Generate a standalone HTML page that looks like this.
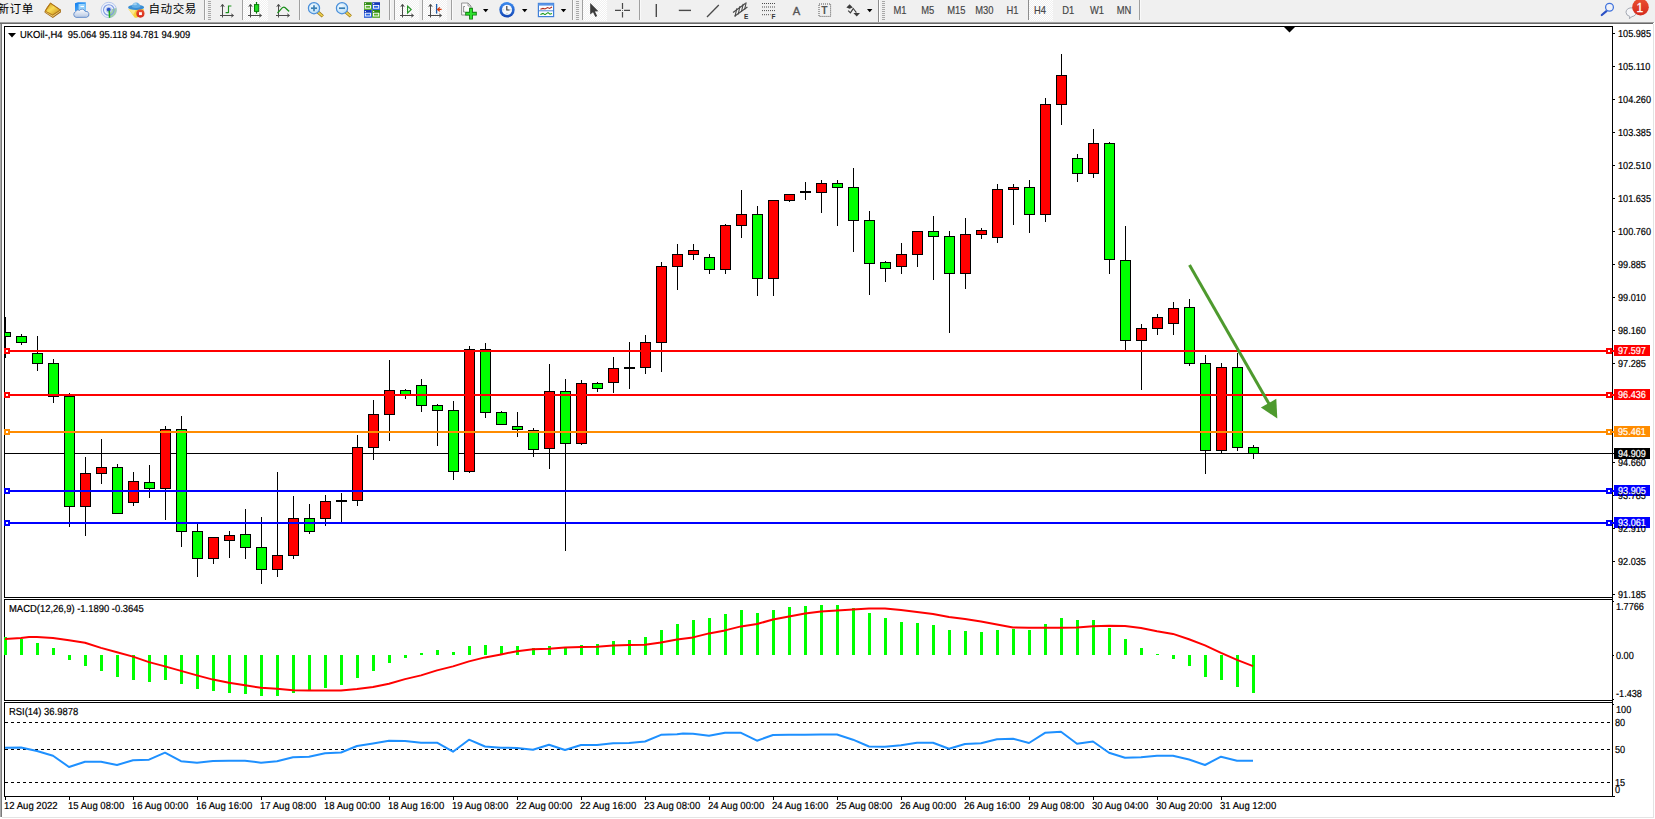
<!DOCTYPE html>
<html lang="zh"><head><meta charset="utf-8"><title>UKOil-,H4</title>
<style>
html,body{margin:0;padding:0;background:#fff;}
body{width:1655px;height:819px;position:relative;overflow:hidden;font-family:"Liberation Sans","Noto Sans CJK SC",sans-serif;}
svg.chart{position:absolute;left:0;top:0;}
svg.tb{position:absolute;left:0;top:0;}
.edgeL0{position:absolute;left:0;top:24px;width:1px;height:793px;background:#a9a9a9;}
.edgeL1{position:absolute;left:1px;top:24px;width:1px;height:793px;background:#7a7a7a;}
.edgeR{position:absolute;left:1653px;top:24px;width:1px;height:794px;background:#e3e3e3;}
.edgeB{position:absolute;left:2px;top:817px;width:1652px;height:1px;background:#e4e4e4;}
.t{position:absolute;white-space:nowrap;color:#000;line-height:11px;height:11px;text-rendering:geometricPrecision;transform-origin:0 50%;-webkit-text-stroke:0.2px currentColor;}
.ax{font-size:10.2px;transform:scaleX(0.897);}
.w{color:#fff;}
.lb{font-size:10.2px;transform:scaleX(0.926);}
.tm{font-size:10.2px;transform:scaleX(0.936);}
.cn{transform:none;text-rendering:auto;-webkit-text-stroke:0;font-size:11.6px;letter-spacing:0.5px;line-height:14px;height:14px;font-family:"Liberation Sans","Noto Sans CJK SC",sans-serif;}
</style></head><body>
<svg class="chart" width="1655" height="819" viewBox="0 0 1655 819" shape-rendering="crispEdges"><defs><clipPath id="cm"><rect x="5" y="27" width="1607" height="570"/></clipPath></defs><rect x="5" y="453" width="1609" height="1" fill="#000"/>
<g clip-path="url(#cm)">
<rect x="5" y="317" width="1" height="41" fill="#000"/>
<rect x="0" y="332" width="11" height="5" fill="#000"/>
<rect x="1" y="333" width="9" height="3" fill="#00ff00"/>
<rect x="21" y="334" width="1" height="11" fill="#000"/>
<rect x="16" y="336" width="11" height="7" fill="#000"/>
<rect x="17" y="337" width="9" height="5" fill="#00ff00"/>
<rect x="37" y="336" width="1" height="35" fill="#000"/>
<rect x="32" y="353" width="11" height="11" fill="#000"/>
<rect x="33" y="354" width="9" height="9" fill="#00ff00"/>
<rect x="53" y="359" width="1" height="44" fill="#000"/>
<rect x="48" y="363" width="11" height="34" fill="#000"/>
<rect x="49" y="364" width="9" height="32" fill="#00ff00"/>
<rect x="69" y="393" width="1" height="134" fill="#000"/>
<rect x="64" y="396" width="11" height="111" fill="#000"/>
<rect x="65" y="397" width="9" height="109" fill="#00ff00"/>
<rect x="85" y="457" width="1" height="79" fill="#000"/>
<rect x="80" y="473" width="11" height="34" fill="#000"/>
<rect x="81" y="474" width="9" height="32" fill="#ff0000"/>
<rect x="101" y="439" width="1" height="45" fill="#000"/>
<rect x="96" y="467" width="11" height="7" fill="#000"/>
<rect x="97" y="468" width="9" height="5" fill="#ff0000"/>
<rect x="117" y="464" width="1" height="50" fill="#000"/>
<rect x="112" y="467" width="11" height="47" fill="#000"/>
<rect x="113" y="468" width="9" height="45" fill="#00ff00"/>
<rect x="133" y="472" width="1" height="34" fill="#000"/>
<rect x="128" y="481" width="11" height="22" fill="#000"/>
<rect x="129" y="482" width="9" height="20" fill="#ff0000"/>
<rect x="149" y="465" width="1" height="33" fill="#000"/>
<rect x="144" y="482" width="11" height="7" fill="#000"/>
<rect x="145" y="483" width="9" height="5" fill="#00ff00"/>
<rect x="165" y="426" width="1" height="94" fill="#000"/>
<rect x="160" y="429" width="11" height="60" fill="#000"/>
<rect x="161" y="430" width="9" height="58" fill="#ff0000"/>
<rect x="181" y="416" width="1" height="131" fill="#000"/>
<rect x="176" y="429" width="11" height="103" fill="#000"/>
<rect x="177" y="430" width="9" height="101" fill="#00ff00"/>
<rect x="197" y="524" width="1" height="53" fill="#000"/>
<rect x="192" y="531" width="11" height="28" fill="#000"/>
<rect x="193" y="532" width="9" height="26" fill="#00ff00"/>
<rect x="213" y="537" width="1" height="27" fill="#000"/>
<rect x="208" y="537" width="11" height="22" fill="#000"/>
<rect x="209" y="538" width="9" height="20" fill="#ff0000"/>
<rect x="229" y="531" width="1" height="27" fill="#000"/>
<rect x="224" y="535" width="11" height="6" fill="#000"/>
<rect x="225" y="536" width="9" height="4" fill="#ff0000"/>
<rect x="245" y="509" width="1" height="50" fill="#000"/>
<rect x="240" y="534" width="11" height="14" fill="#000"/>
<rect x="241" y="535" width="9" height="12" fill="#00ff00"/>
<rect x="261" y="517" width="1" height="67" fill="#000"/>
<rect x="256" y="547" width="11" height="23" fill="#000"/>
<rect x="257" y="548" width="9" height="21" fill="#00ff00"/>
<rect x="277" y="472" width="1" height="105" fill="#000"/>
<rect x="272" y="555" width="11" height="15" fill="#000"/>
<rect x="273" y="556" width="9" height="13" fill="#ff0000"/>
<rect x="293" y="496" width="1" height="63" fill="#000"/>
<rect x="288" y="518" width="11" height="38" fill="#000"/>
<rect x="289" y="519" width="9" height="36" fill="#ff0000"/>
<rect x="309" y="504" width="1" height="30" fill="#000"/>
<rect x="304" y="518" width="11" height="14" fill="#000"/>
<rect x="305" y="519" width="9" height="12" fill="#00ff00"/>
<rect x="325" y="495" width="1" height="31" fill="#000"/>
<rect x="320" y="501" width="11" height="18" fill="#000"/>
<rect x="321" y="502" width="9" height="16" fill="#ff0000"/>
<rect x="341" y="493" width="1" height="29" fill="#000"/>
<rect x="336" y="500" width="11" height="2" fill="#000"/>
<rect x="357" y="435" width="1" height="71" fill="#000"/>
<rect x="352" y="447" width="11" height="54" fill="#000"/>
<rect x="353" y="448" width="9" height="52" fill="#ff0000"/>
<rect x="373" y="400" width="1" height="60" fill="#000"/>
<rect x="368" y="414" width="11" height="34" fill="#000"/>
<rect x="369" y="415" width="9" height="32" fill="#ff0000"/>
<rect x="389" y="360" width="1" height="81" fill="#000"/>
<rect x="384" y="390" width="11" height="25" fill="#000"/>
<rect x="385" y="391" width="9" height="23" fill="#ff0000"/>
<rect x="405" y="389" width="1" height="10" fill="#000"/>
<rect x="400" y="390" width="11" height="5" fill="#000"/>
<rect x="401" y="391" width="9" height="3" fill="#00ff00"/>
<rect x="421" y="379" width="1" height="33" fill="#000"/>
<rect x="416" y="385" width="11" height="21" fill="#000"/>
<rect x="417" y="386" width="9" height="19" fill="#00ff00"/>
<rect x="437" y="404" width="1" height="42" fill="#000"/>
<rect x="432" y="405" width="11" height="6" fill="#000"/>
<rect x="433" y="406" width="9" height="4" fill="#00ff00"/>
<rect x="453" y="401" width="1" height="79" fill="#000"/>
<rect x="448" y="410" width="11" height="62" fill="#000"/>
<rect x="449" y="411" width="9" height="60" fill="#00ff00"/>
<rect x="469" y="346" width="1" height="127" fill="#000"/>
<rect x="464" y="349" width="11" height="123" fill="#000"/>
<rect x="465" y="350" width="9" height="121" fill="#ff0000"/>
<rect x="485" y="343" width="1" height="75" fill="#000"/>
<rect x="480" y="349" width="11" height="64" fill="#000"/>
<rect x="481" y="350" width="9" height="62" fill="#00ff00"/>
<rect x="501" y="411" width="1" height="14" fill="#000"/>
<rect x="496" y="412" width="11" height="13" fill="#000"/>
<rect x="497" y="413" width="9" height="11" fill="#00ff00"/>
<rect x="517" y="412" width="1" height="25" fill="#000"/>
<rect x="512" y="426" width="11" height="4" fill="#000"/>
<rect x="513" y="427" width="9" height="2" fill="#00ff00"/>
<rect x="533" y="428" width="1" height="29" fill="#000"/>
<rect x="528" y="430" width="11" height="20" fill="#000"/>
<rect x="529" y="431" width="9" height="18" fill="#00ff00"/>
<rect x="549" y="364" width="1" height="105" fill="#000"/>
<rect x="544" y="391" width="11" height="58" fill="#000"/>
<rect x="545" y="392" width="9" height="56" fill="#ff0000"/>
<rect x="565" y="379" width="1" height="172" fill="#000"/>
<rect x="560" y="391" width="11" height="53" fill="#000"/>
<rect x="561" y="392" width="9" height="51" fill="#00ff00"/>
<rect x="581" y="380" width="1" height="65" fill="#000"/>
<rect x="576" y="383" width="11" height="61" fill="#000"/>
<rect x="577" y="384" width="9" height="59" fill="#ff0000"/>
<rect x="597" y="382" width="1" height="10" fill="#000"/>
<rect x="592" y="383" width="11" height="6" fill="#000"/>
<rect x="593" y="384" width="9" height="4" fill="#00ff00"/>
<rect x="613" y="357" width="1" height="36" fill="#000"/>
<rect x="608" y="368" width="11" height="15" fill="#000"/>
<rect x="609" y="369" width="9" height="13" fill="#ff0000"/>
<rect x="629" y="342" width="1" height="47" fill="#000"/>
<rect x="624" y="367" width="11" height="2" fill="#000"/>
<rect x="645" y="335" width="1" height="39" fill="#000"/>
<rect x="640" y="342" width="11" height="26" fill="#000"/>
<rect x="641" y="343" width="9" height="24" fill="#ff0000"/>
<rect x="661" y="262" width="1" height="110" fill="#000"/>
<rect x="656" y="266" width="11" height="77" fill="#000"/>
<rect x="657" y="267" width="9" height="75" fill="#ff0000"/>
<rect x="677" y="244" width="1" height="46" fill="#000"/>
<rect x="672" y="254" width="11" height="13" fill="#000"/>
<rect x="673" y="255" width="9" height="11" fill="#ff0000"/>
<rect x="693" y="244" width="1" height="16" fill="#000"/>
<rect x="688" y="250" width="11" height="5" fill="#000"/>
<rect x="689" y="251" width="9" height="3" fill="#ff0000"/>
<rect x="709" y="254" width="1" height="20" fill="#000"/>
<rect x="704" y="257" width="11" height="13" fill="#000"/>
<rect x="705" y="258" width="9" height="11" fill="#00ff00"/>
<rect x="725" y="224" width="1" height="50" fill="#000"/>
<rect x="720" y="225" width="11" height="45" fill="#000"/>
<rect x="721" y="226" width="9" height="43" fill="#ff0000"/>
<rect x="741" y="190" width="1" height="48" fill="#000"/>
<rect x="736" y="214" width="11" height="12" fill="#000"/>
<rect x="737" y="215" width="9" height="10" fill="#ff0000"/>
<rect x="757" y="206" width="1" height="90" fill="#000"/>
<rect x="752" y="214" width="11" height="65" fill="#000"/>
<rect x="753" y="215" width="9" height="63" fill="#00ff00"/>
<rect x="773" y="200" width="1" height="96" fill="#000"/>
<rect x="768" y="200" width="11" height="79" fill="#000"/>
<rect x="769" y="201" width="9" height="77" fill="#ff0000"/>
<rect x="789" y="194" width="1" height="8" fill="#000"/>
<rect x="784" y="194" width="11" height="7" fill="#000"/>
<rect x="785" y="195" width="9" height="5" fill="#ff0000"/>
<rect x="805" y="182" width="1" height="18" fill="#000"/>
<rect x="800" y="191" width="11" height="2" fill="#000"/>
<rect x="821" y="180" width="1" height="33" fill="#000"/>
<rect x="816" y="183" width="11" height="10" fill="#000"/>
<rect x="817" y="184" width="9" height="8" fill="#ff0000"/>
<rect x="837" y="180" width="1" height="46" fill="#000"/>
<rect x="832" y="183" width="11" height="5" fill="#000"/>
<rect x="833" y="184" width="9" height="3" fill="#00ff00"/>
<rect x="853" y="168" width="1" height="84" fill="#000"/>
<rect x="848" y="187" width="11" height="34" fill="#000"/>
<rect x="849" y="188" width="9" height="32" fill="#00ff00"/>
<rect x="869" y="211" width="1" height="84" fill="#000"/>
<rect x="864" y="220" width="11" height="44" fill="#000"/>
<rect x="865" y="221" width="9" height="42" fill="#00ff00"/>
<rect x="885" y="261" width="1" height="21" fill="#000"/>
<rect x="880" y="262" width="11" height="7" fill="#000"/>
<rect x="881" y="263" width="9" height="5" fill="#00ff00"/>
<rect x="901" y="243" width="1" height="31" fill="#000"/>
<rect x="896" y="254" width="11" height="13" fill="#000"/>
<rect x="897" y="255" width="9" height="11" fill="#ff0000"/>
<rect x="917" y="231" width="1" height="36" fill="#000"/>
<rect x="912" y="231" width="11" height="24" fill="#000"/>
<rect x="913" y="232" width="9" height="22" fill="#ff0000"/>
<rect x="933" y="216" width="1" height="64" fill="#000"/>
<rect x="928" y="231" width="11" height="6" fill="#000"/>
<rect x="929" y="232" width="9" height="4" fill="#00ff00"/>
<rect x="949" y="231" width="1" height="102" fill="#000"/>
<rect x="944" y="236" width="11" height="38" fill="#000"/>
<rect x="945" y="237" width="9" height="36" fill="#00ff00"/>
<rect x="965" y="218" width="1" height="71" fill="#000"/>
<rect x="960" y="234" width="11" height="40" fill="#000"/>
<rect x="961" y="235" width="9" height="38" fill="#ff0000"/>
<rect x="981" y="228" width="1" height="11" fill="#000"/>
<rect x="976" y="230" width="11" height="5" fill="#000"/>
<rect x="977" y="231" width="9" height="3" fill="#ff0000"/>
<rect x="997" y="184" width="1" height="59" fill="#000"/>
<rect x="992" y="189" width="11" height="49" fill="#000"/>
<rect x="993" y="190" width="9" height="47" fill="#ff0000"/>
<rect x="1013" y="184" width="1" height="41" fill="#000"/>
<rect x="1008" y="187" width="11" height="3" fill="#000"/>
<rect x="1009" y="188" width="9" height="1" fill="#ff0000"/>
<rect x="1029" y="180" width="1" height="53" fill="#000"/>
<rect x="1024" y="187" width="11" height="28" fill="#000"/>
<rect x="1025" y="188" width="9" height="26" fill="#00ff00"/>
<rect x="1045" y="98" width="1" height="124" fill="#000"/>
<rect x="1040" y="104" width="11" height="111" fill="#000"/>
<rect x="1041" y="105" width="9" height="109" fill="#ff0000"/>
<rect x="1061" y="54" width="1" height="71" fill="#000"/>
<rect x="1056" y="75" width="11" height="30" fill="#000"/>
<rect x="1057" y="76" width="9" height="28" fill="#ff0000"/>
<rect x="1077" y="154" width="1" height="28" fill="#000"/>
<rect x="1072" y="158" width="11" height="16" fill="#000"/>
<rect x="1073" y="159" width="9" height="14" fill="#00ff00"/>
<rect x="1093" y="129" width="1" height="49" fill="#000"/>
<rect x="1088" y="143" width="11" height="31" fill="#000"/>
<rect x="1089" y="144" width="9" height="29" fill="#ff0000"/>
<rect x="1109" y="142" width="1" height="132" fill="#000"/>
<rect x="1104" y="143" width="11" height="117" fill="#000"/>
<rect x="1105" y="144" width="9" height="115" fill="#00ff00"/>
<rect x="1125" y="226" width="1" height="124" fill="#000"/>
<rect x="1120" y="260" width="11" height="81" fill="#000"/>
<rect x="1121" y="261" width="9" height="79" fill="#00ff00"/>
<rect x="1141" y="324" width="1" height="66" fill="#000"/>
<rect x="1136" y="328" width="11" height="13" fill="#000"/>
<rect x="1137" y="329" width="9" height="11" fill="#ff0000"/>
<rect x="1157" y="314" width="1" height="21" fill="#000"/>
<rect x="1152" y="317" width="11" height="12" fill="#000"/>
<rect x="1153" y="318" width="9" height="10" fill="#ff0000"/>
<rect x="1173" y="302" width="1" height="33" fill="#000"/>
<rect x="1168" y="308" width="11" height="16" fill="#000"/>
<rect x="1169" y="309" width="9" height="14" fill="#ff0000"/>
<rect x="1189" y="299" width="1" height="67" fill="#000"/>
<rect x="1184" y="307" width="11" height="57" fill="#000"/>
<rect x="1185" y="308" width="9" height="55" fill="#00ff00"/>
<rect x="1205" y="355" width="1" height="119" fill="#000"/>
<rect x="1200" y="363" width="11" height="88" fill="#000"/>
<rect x="1201" y="364" width="9" height="86" fill="#00ff00"/>
<rect x="1221" y="363" width="1" height="90" fill="#000"/>
<rect x="1216" y="367" width="11" height="84" fill="#000"/>
<rect x="1217" y="368" width="9" height="82" fill="#ff0000"/>
<rect x="1237" y="353" width="1" height="98" fill="#000"/>
<rect x="1232" y="367" width="11" height="81" fill="#000"/>
<rect x="1233" y="368" width="9" height="79" fill="#00ff00"/>
<rect x="1253" y="445" width="1" height="14" fill="#000"/>
<rect x="1248" y="447" width="11" height="7" fill="#000"/>
<rect x="1249" y="448" width="9" height="5" fill="#00ff00"/>
</g>
<rect x="4" y="26" width="1609" height="1" fill="#000"/>
<rect x="4" y="597" width="1609" height="1" fill="#000"/>
<rect x="4" y="599" width="1609" height="1" fill="#000"/>
<rect x="4" y="700" width="1609" height="1" fill="#000"/>
<rect x="4" y="702" width="1609" height="1" fill="#000"/>
<rect x="4" y="796" width="1609" height="1" fill="#000"/>
<rect x="4" y="26" width="1" height="771" fill="#000"/>
<rect x="1612" y="26" width="1" height="771" fill="#000"/>
<rect x="5" y="598" width="1607" height="1" fill="#fff"/>
<rect x="5" y="701" width="1607" height="1" fill="#fff"/>
<rect x="4" y="598" width="1" height="1" fill="#fff"/>
<rect x="4" y="701" width="1" height="1" fill="#fff"/>
<rect x="1612" y="598" width="1" height="1" fill="#000"/>
<rect x="1612" y="701" width="1" height="1" fill="#000"/>
<rect x="5" y="350" width="1609" height="2" fill="#ff0000"/>
<rect x="4" y="348" width="6" height="6" fill="#ff0000"/>
<rect x="6" y="350" width="2" height="2" fill="#fff"/>
<rect x="1606" y="348" width="6" height="6" fill="#ff0000"/>
<rect x="1608" y="350" width="2" height="2" fill="#fff"/>
<rect x="5" y="394" width="1609" height="2" fill="#ff0000"/>
<rect x="4" y="392" width="6" height="6" fill="#ff0000"/>
<rect x="6" y="394" width="2" height="2" fill="#fff"/>
<rect x="1606" y="392" width="6" height="6" fill="#ff0000"/>
<rect x="1608" y="394" width="2" height="2" fill="#fff"/>
<rect x="5" y="431" width="1609" height="2" fill="#ff8c00"/>
<rect x="4" y="429" width="6" height="6" fill="#ff8c00"/>
<rect x="6" y="431" width="2" height="2" fill="#fff"/>
<rect x="1606" y="429" width="6" height="6" fill="#ff8c00"/>
<rect x="1608" y="431" width="2" height="2" fill="#fff"/>
<rect x="5" y="490" width="1609" height="2" fill="#0000ff"/>
<rect x="4" y="488" width="6" height="6" fill="#0000ff"/>
<rect x="6" y="490" width="2" height="2" fill="#fff"/>
<rect x="1606" y="488" width="6" height="6" fill="#0000ff"/>
<rect x="1608" y="490" width="2" height="2" fill="#fff"/>
<rect x="5" y="522" width="1609" height="2" fill="#0000ff"/>
<rect x="4" y="520" width="6" height="6" fill="#0000ff"/>
<rect x="6" y="522" width="2" height="2" fill="#fff"/>
<rect x="1606" y="520" width="6" height="6" fill="#0000ff"/>
<rect x="1608" y="522" width="2" height="2" fill="#fff"/>
<polygon points="1284,27 1295,27 1289.5,32.5" fill="#000" shape-rendering="auto"/>
<rect x="1613" y="33" width="2" height="1" fill="#000"/>
<rect x="1613" y="66" width="2" height="1" fill="#000"/>
<rect x="1613" y="99" width="2" height="1" fill="#000"/>
<rect x="1613" y="132" width="2" height="1" fill="#000"/>
<rect x="1613" y="165" width="2" height="1" fill="#000"/>
<rect x="1613" y="198" width="2" height="1" fill="#000"/>
<rect x="1613" y="231" width="2" height="1" fill="#000"/>
<rect x="1613" y="264" width="2" height="1" fill="#000"/>
<rect x="1613" y="297" width="2" height="1" fill="#000"/>
<rect x="1613" y="330" width="2" height="1" fill="#000"/>
<rect x="1613" y="363" width="2" height="1" fill="#000"/>
<rect x="1613" y="462" width="2" height="1" fill="#000"/>
<rect x="1613" y="495" width="2" height="1" fill="#000"/>
<rect x="1613" y="528" width="2" height="1" fill="#000"/>
<rect x="1613" y="561" width="2" height="1" fill="#000"/>
<rect x="1613" y="594" width="2" height="1" fill="#000"/>
<rect x="1614" y="345" width="36" height="11" fill="#ff0000"/>
<rect x="1614" y="389" width="36" height="11" fill="#ff0000"/>
<rect x="1614" y="426" width="36" height="11" fill="#ff8c00"/>
<rect x="1614" y="485" width="36" height="11" fill="#0000ff"/>
<rect x="1614" y="517" width="36" height="11" fill="#0000ff"/>
<rect x="1614" y="448" width="36" height="11" fill="#000"/>
<rect x="4" y="637" width="3" height="18" fill="#00ff00"/>
<rect x="20" y="639" width="3" height="16" fill="#00ff00"/>
<rect x="36" y="643" width="3" height="12" fill="#00ff00"/>
<rect x="52" y="648" width="3" height="7" fill="#00ff00"/>
<rect x="68" y="655" width="3" height="5" fill="#00ff00"/>
<rect x="84" y="655" width="3" height="11" fill="#00ff00"/>
<rect x="100" y="655" width="3" height="16" fill="#00ff00"/>
<rect x="116" y="655" width="3" height="22" fill="#00ff00"/>
<rect x="132" y="655" width="3" height="25" fill="#00ff00"/>
<rect x="148" y="655" width="3" height="27" fill="#00ff00"/>
<rect x="164" y="655" width="3" height="25" fill="#00ff00"/>
<rect x="180" y="655" width="3" height="29" fill="#00ff00"/>
<rect x="196" y="655" width="3" height="34" fill="#00ff00"/>
<rect x="212" y="655" width="3" height="36" fill="#00ff00"/>
<rect x="228" y="655" width="3" height="38" fill="#00ff00"/>
<rect x="244" y="655" width="3" height="39" fill="#00ff00"/>
<rect x="260" y="655" width="3" height="41" fill="#00ff00"/>
<rect x="276" y="655" width="3" height="41" fill="#00ff00"/>
<rect x="292" y="655" width="3" height="38" fill="#00ff00"/>
<rect x="308" y="655" width="3" height="36" fill="#00ff00"/>
<rect x="324" y="655" width="3" height="33" fill="#00ff00"/>
<rect x="340" y="655" width="3" height="30" fill="#00ff00"/>
<rect x="356" y="655" width="3" height="23" fill="#00ff00"/>
<rect x="372" y="655" width="3" height="16" fill="#00ff00"/>
<rect x="388" y="655" width="3" height="8" fill="#00ff00"/>
<rect x="404" y="655" width="3" height="3" fill="#00ff00"/>
<rect x="420" y="653" width="3" height="2" fill="#00ff00"/>
<rect x="436" y="650" width="3" height="5" fill="#00ff00"/>
<rect x="452" y="652" width="3" height="3" fill="#00ff00"/>
<rect x="468" y="646" width="3" height="9" fill="#00ff00"/>
<rect x="484" y="645" width="3" height="10" fill="#00ff00"/>
<rect x="500" y="646" width="3" height="9" fill="#00ff00"/>
<rect x="516" y="646" width="3" height="9" fill="#00ff00"/>
<rect x="532" y="648" width="3" height="7" fill="#00ff00"/>
<rect x="548" y="646" width="3" height="9" fill="#00ff00"/>
<rect x="564" y="647" width="3" height="8" fill="#00ff00"/>
<rect x="580" y="645" width="3" height="10" fill="#00ff00"/>
<rect x="596" y="644" width="3" height="11" fill="#00ff00"/>
<rect x="612" y="641" width="3" height="14" fill="#00ff00"/>
<rect x="628" y="640" width="3" height="15" fill="#00ff00"/>
<rect x="644" y="637" width="3" height="18" fill="#00ff00"/>
<rect x="660" y="630" width="3" height="25" fill="#00ff00"/>
<rect x="676" y="624" width="3" height="31" fill="#00ff00"/>
<rect x="692" y="620" width="3" height="35" fill="#00ff00"/>
<rect x="708" y="618" width="3" height="37" fill="#00ff00"/>
<rect x="724" y="614" width="3" height="41" fill="#00ff00"/>
<rect x="740" y="610" width="3" height="45" fill="#00ff00"/>
<rect x="756" y="613" width="3" height="42" fill="#00ff00"/>
<rect x="772" y="610" width="3" height="45" fill="#00ff00"/>
<rect x="788" y="607" width="3" height="48" fill="#00ff00"/>
<rect x="804" y="606" width="3" height="49" fill="#00ff00"/>
<rect x="820" y="605" width="3" height="50" fill="#00ff00"/>
<rect x="836" y="605" width="3" height="50" fill="#00ff00"/>
<rect x="852" y="608" width="3" height="47" fill="#00ff00"/>
<rect x="868" y="613" width="3" height="42" fill="#00ff00"/>
<rect x="884" y="618" width="3" height="37" fill="#00ff00"/>
<rect x="900" y="622" width="3" height="33" fill="#00ff00"/>
<rect x="916" y="623" width="3" height="32" fill="#00ff00"/>
<rect x="932" y="625" width="3" height="30" fill="#00ff00"/>
<rect x="948" y="630" width="3" height="25" fill="#00ff00"/>
<rect x="964" y="631" width="3" height="24" fill="#00ff00"/>
<rect x="980" y="632" width="3" height="23" fill="#00ff00"/>
<rect x="996" y="630" width="3" height="25" fill="#00ff00"/>
<rect x="1012" y="629" width="3" height="26" fill="#00ff00"/>
<rect x="1028" y="630" width="3" height="25" fill="#00ff00"/>
<rect x="1044" y="624" width="3" height="31" fill="#00ff00"/>
<rect x="1060" y="618" width="3" height="37" fill="#00ff00"/>
<rect x="1076" y="620" width="3" height="35" fill="#00ff00"/>
<rect x="1092" y="620" width="3" height="35" fill="#00ff00"/>
<rect x="1108" y="628" width="3" height="27" fill="#00ff00"/>
<rect x="1124" y="639" width="3" height="16" fill="#00ff00"/>
<rect x="1140" y="648" width="3" height="7" fill="#00ff00"/>
<rect x="1156" y="654" width="3" height="1" fill="#00ff00"/>
<rect x="1172" y="655" width="3" height="4" fill="#00ff00"/>
<rect x="1188" y="655" width="3" height="11" fill="#00ff00"/>
<rect x="1204" y="655" width="3" height="22" fill="#00ff00"/>
<rect x="1220" y="655" width="3" height="25" fill="#00ff00"/>
<rect x="1236" y="655" width="3" height="32" fill="#00ff00"/>
<rect x="1252" y="655" width="3" height="38" fill="#00ff00"/>
<rect x="1613" y="601" width="1" height="1" fill="#000"/>
<rect x="1613" y="655" width="1" height="1" fill="#000"/>
<rect x="1613" y="699" width="1" height="1" fill="#000"/>
<rect x="1613" y="704" width="1" height="1" fill="#000"/>
<rect x="1613" y="796" width="2" height="1" fill="#000"/>
<line x1="5" y1="722.5" x2="1612" y2="722.5" stroke="#000" stroke-width="1" stroke-dasharray="3 3"/>
<line x1="5" y1="749.5" x2="1612" y2="749.5" stroke="#000" stroke-width="1" stroke-dasharray="3 3"/>
<line x1="5" y1="782.5" x2="1612" y2="782.5" stroke="#000" stroke-width="1" stroke-dasharray="3 3"/>
<rect x="5" y="797" width="1" height="3" fill="#000"/>
<rect x="69" y="797" width="1" height="3" fill="#000"/>
<rect x="133" y="797" width="1" height="3" fill="#000"/>
<rect x="197" y="797" width="1" height="3" fill="#000"/>
<rect x="261" y="797" width="1" height="3" fill="#000"/>
<rect x="325" y="797" width="1" height="3" fill="#000"/>
<rect x="389" y="797" width="1" height="3" fill="#000"/>
<rect x="453" y="797" width="1" height="3" fill="#000"/>
<rect x="517" y="797" width="1" height="3" fill="#000"/>
<rect x="581" y="797" width="1" height="3" fill="#000"/>
<rect x="645" y="797" width="1" height="3" fill="#000"/>
<rect x="709" y="797" width="1" height="3" fill="#000"/>
<rect x="773" y="797" width="1" height="3" fill="#000"/>
<rect x="837" y="797" width="1" height="3" fill="#000"/>
<rect x="901" y="797" width="1" height="3" fill="#000"/>
<rect x="965" y="797" width="1" height="3" fill="#000"/>
<rect x="1029" y="797" width="1" height="3" fill="#000"/>
<rect x="1093" y="797" width="1" height="3" fill="#000"/>
<rect x="1157" y="797" width="1" height="3" fill="#000"/>
<rect x="1221" y="797" width="1" height="3" fill="#000"/>
<polyline points="5,638.9 21,637.9 29,636.9 37,636.9 53,637.9 69,640.2 85,642.7 101,647.9 117,652.2 133,656.6 149,662.1 165,666.4 181,670.9 197,675.4 213,679.6 229,682.8 245,685.3 261,687.8 277,688.8 293,690.3 309,690.6 325,690.6 341,690.6 357,689.1 373,687.1 389,683.8 405,679.1 421,675.4 437,670.4 453,666.4 469,661.4 485,657.4 501,654.4 517,651.2 533,649.2 549,648.7 565,647.4 581,646.9 597,646.7 613,645.4 629,644.9 645,644.7 661,642.4 677,639.4 693,637.4 709,633.4 725,630.4 741,626.4 757,624 773,619.5 789,616.5 805,613.5 821,611.5 837,610.5 853,609.5 869,608.5 885,608.5 901,610 917,612 933,614 949,617 965,619 981,621.5 997,624.5 1013,627.4 1029,627.7 1045,627.7 1061,627.7 1077,627.4 1093,626.2 1109,625.7 1125,626 1141,628 1157,631.2 1173,633.9 1189,639.2 1205,645.4 1221,652.9 1237,659.9 1253,666.1" fill="none" stroke="#ff0000" stroke-width="2" stroke-linejoin="round" shape-rendering="auto"/>
<polyline points="5,747.7 21,747.5 37,751 53,755.7 69,767 85,761.7 101,761.7 117,765 133,760.2 149,759.7 165,752.7 181,761.2 197,762.7 213,761 229,760.7 245,760.7 261,762.7 277,761.2 293,757.2 309,756.7 325,753.2 341,752.5 357,746 373,743.5 389,740.7 405,741 421,742.7 437,742.7 453,751.7 469,739.7 485,746.5 501,747.7 517,748 533,749.7 549,744.7 565,750 581,745 597,745 613,743.2 629,743 645,741.5 661,734.8 677,734.3 683,733.5 693,733.8 709,735.8 725,732.8 741,732.8 757,740.7 773,735 789,734.8 805,734.7 821,734.5 837,734.5 853,739.7 869,746.5 885,746.7 901,745.2 917,742.7 933,742.7 949,748.7 965,744 981,743.2 997,739.2 1013,738.7 1029,743 1045,732.8 1061,731.8 1077,743.7 1093,741.5 1109,752.7 1125,757.7 1141,757.2 1157,755.7 1173,755.7 1189,759.5 1205,765 1221,756.7 1237,760.7 1253,760.7" fill="none" stroke="#1e90ff" stroke-width="2" stroke-linejoin="round" shape-rendering="auto"/>
<line x1="1189.5" y1="265.0" x2="1269.4" y2="404.5" stroke="#4e9a2e" stroke-width="3" shape-rendering="auto"/>
<polygon points="1277.3,418.4 1260.9,407.6 1276.3,398.8" fill="#4e9a2e" shape-rendering="auto"/></svg>
<div class="edgeL0"></div><div class="edgeL1"></div><div class="edgeR"></div><div class="edgeB"></div>
<svg class="tb" width="1655" height="24" viewBox="0 0 1655 24">
<defs>
<linearGradient id="gold" x1="0" y1="0" x2="1" y2="1"><stop offset="0" stop-color="#c8921a"/><stop offset=".45" stop-color="#f9dc55"/><stop offset="1" stop-color="#c08414"/></linearGradient>
<linearGradient id="cloud" x1="0" y1="0" x2="0" y2="1"><stop offset="0" stop-color="#ffffff"/><stop offset="1" stop-color="#b4c6e2"/></linearGradient>
<linearGradient id="bdoc" x1="0" y1="0" x2="1" y2="1"><stop offset="0" stop-color="#0a7aee"/><stop offset="1" stop-color="#6cc0fa"/></linearGradient>
<linearGradient id="redb" x1="0" y1="0" x2="0" y2="1"><stop offset="0" stop-color="#ea5030"/><stop offset="1" stop-color="#d42a1c"/></linearGradient>
<radialGradient id="lens" cx=".4" cy=".35" r=".7"><stop offset="0" stop-color="#f2faff"/><stop offset="1" stop-color="#b6dcf6"/></radialGradient>
<linearGradient id="clk" x1="0" y1="0" x2="0" y2="1"><stop offset="0" stop-color="#3c8cf0"/><stop offset="1" stop-color="#1446b4"/></linearGradient>
<pattern id="chk" width="2" height="2" patternUnits="userSpaceOnUse"><rect width="2" height="2" fill="#f0f0f0"/><rect width="1" height="1" fill="#ffffff"/><rect x="1" y="1" width="1" height="1" fill="#ffffff"/></pattern>
</defs>
<rect x="0" y="0" width="1655" height="22" fill="#f0f0f0"/>
<rect x="0" y="22" width="1654" height="1" fill="#a0a0a0" shape-rendering="crispEdges"/>
<rect x="0" y="23" width="1653" height="1" fill="#696969" shape-rendering="crispEdges"/>
<polygon points="50.4,2.6 61,9.8 61,12.2 52.8,17.9 44.6,12.6 44.6,11.2" fill="#9c6414"/>
<polygon points="45.2,12.2 52.7,16.9 60.6,11.3 60.6,10.2 52.7,15.4 45.2,11.2" fill="#e8c870"/>
<polygon points="50.5,3.4 60.2,10 52.6,14.9 45.4,11.2" fill="url(#gold)" stroke="#b27616" stroke-width="0.8"/>
<path d="M50.5 3.2 C48.2 5.6 46.4 8.4 45.4 11" stroke="#b87c18" stroke-width="0.9" fill="none"/>
<path d="M75 3.2 L78 2.2 H85.8 V11 H75 Z" fill="url(#bdoc)"/>
<rect x="78.6" y="4" width="6.2" height="6.6" fill="#9ad4fb"/>
<rect x="80.5" y="6" width="3.5" height="1" fill="#ffffff"/>
<path d="M76.2 17.4 a3 3 0 0 1 -0.4 -5.8 a2.4 2.4 0 0 1 3.6 -1.2 a3.4 3.4 0 0 1 5.8 1 a3 3 0 0 1 1.4 5.9 Z" fill="url(#cloud)" stroke="#4c7cc4" stroke-width="0.8"/>
<circle cx="108.8" cy="10" r="7.7" fill="#edf2fb" stroke="#b4c6ec" stroke-width="1"/>
<path d="M108.8 10 L109.2 17.7 A7.7 7.7 0 0 0 116.3 8 Z" fill="#8fc88f" opacity=".8"/>
<circle cx="108.8" cy="10" r="5.3" fill="none" stroke="#7d9be2" stroke-width="1.1"/>
<circle cx="108.8" cy="9.8" r="3.1" fill="#b9c9f0"/>
<circle cx="108.7" cy="9.6" r="1.9" fill="#2a52c8"/>
<path d="M109.3 10.6 L109.5 17.7" stroke="#1faa1f" stroke-width="1.5"/>
<polygon points="128.4,9 143.8,9 143.4,11.5 137.2,17.8 134.8,17.8" fill="#f6d23e"/>
<polygon points="128.4,9 136.4,9 133.2,14.8" fill="#fbe98a"/>
<ellipse cx="136.1" cy="7.4" rx="8" ry="2.7" fill="#3a8ed4"/>
<path d="M131.8 7 C131.8 1 140.4 1 140.4 7 C138 8.2 134.2 8.2 131.8 7 Z" fill="#62aee6"/>
<ellipse cx="135" cy="4.2" rx="2" ry="1.1" fill="#9fd0f2"/>
<circle cx="140.4" cy="13.6" r="4.1" fill="url(#redb)"/>
<rect x="139" y="12.2" width="2.9" height="2.9" fill="#ffffff"/>
<rect x="204" y="0" width="1" height="20" fill="#a0a0a0" shape-rendering="crispEdges"/>
<rect x="205" y="0" width="1" height="20" fill="#fafafa" shape-rendering="crispEdges"/>
<rect x="208" y="1" width="3" height="1" fill="#a8a8a8" shape-rendering="crispEdges"/>
<rect x="208" y="3" width="3" height="1" fill="#a8a8a8" shape-rendering="crispEdges"/>
<rect x="208" y="5" width="3" height="1" fill="#a8a8a8" shape-rendering="crispEdges"/>
<rect x="208" y="7" width="3" height="1" fill="#a8a8a8" shape-rendering="crispEdges"/>
<rect x="208" y="9" width="3" height="1" fill="#a8a8a8" shape-rendering="crispEdges"/>
<rect x="208" y="11" width="3" height="1" fill="#a8a8a8" shape-rendering="crispEdges"/>
<rect x="208" y="13" width="3" height="1" fill="#a8a8a8" shape-rendering="crispEdges"/>
<rect x="208" y="15" width="3" height="1" fill="#a8a8a8" shape-rendering="crispEdges"/>
<rect x="208" y="17" width="3" height="1" fill="#a8a8a8" shape-rendering="crispEdges"/>
<rect x="208" y="19" width="3" height="1" fill="#a8a8a8" shape-rendering="crispEdges"/>
<path d="M222.5 5 V17.5 M220 15.5 H233 M220.8 6.8 L222.5 4.2 L224.2 6.8 M231.2 13.9 L233.6 15.5 L231.2 17.1" stroke="#4a4a4a" stroke-width="1" fill="none"/>
<path d="M228.5 5.5 V13 M225.6 12.6 H228.5 M228.5 6 H231.4" stroke="#1b8f1b" stroke-width="1.15" fill="none"/>
<rect x="242" y="0" width="1" height="20" fill="#a0a0a0" shape-rendering="crispEdges"/>
<rect x="243" y="0" width="1" height="20" fill="#fafafa" shape-rendering="crispEdges"/>
<rect x="244" y="0" width="24" height="21" fill="url(#chk)" shape-rendering="crispEdges"/>
<path d="M250.5 5 V17.5 M248 15.5 H261 M248.8 6.8 L250.5 4.2 L252.2 6.8 M259.2 13.9 L261.6 15.5 L259.2 17.1" stroke="#4a4a4a" stroke-width="1" fill="none"/>
<path d="M256.5 2 V13.6" stroke="#0a7a0a" stroke-width="1.2"/>
<rect x="254.5" y="4.6" width="4.2" height="6.8" fill="#22dd22" stroke="#0a7a0a" stroke-width="1"/>
<path d="M278.5 5 V17.5 M276 15.5 H289 M276.8 6.8 L278.5 4.2 L280.2 6.8 M287.2 13.9 L289.6 15.5 L287.2 17.1" stroke="#4a4a4a" stroke-width="1" fill="none"/>
<path d="M277.4 12.8 C280 11.5 281.4 7.2 283.8 7.2 C285.6 7.2 287 10 289.2 11.4" stroke="#1b8f1b" stroke-width="1.3" fill="none"/>
<rect x="299" y="0" width="1" height="20" fill="#a0a0a0" shape-rendering="crispEdges"/>
<rect x="300" y="0" width="1" height="20" fill="#fafafa" shape-rendering="crispEdges"/>
<path d="M317.6 11.8 L322.8 16.4" stroke="#9a7412" stroke-width="3.2" stroke-linecap="butt"/>
<path d="M317.8 12 L322.6 16.2" stroke="#ecd050" stroke-width="1.7" stroke-linecap="butt"/>
<circle cx="314" cy="8.2" r="5.6" fill="url(#lens)" stroke="#4a8fda" stroke-width="1.2"/>
<path d="M311 8.2 H317" stroke="#3a7fb4" stroke-width="1.7"/>
<path d="M314 5.2 V11.2" stroke="#3a7fb4" stroke-width="1.7"/>
<path d="M345.6 11.8 L350.8 16.4" stroke="#9a7412" stroke-width="3.2" stroke-linecap="butt"/>
<path d="M345.8 12 L350.6 16.2" stroke="#ecd050" stroke-width="1.7" stroke-linecap="butt"/>
<circle cx="342" cy="8.2" r="5.6" fill="url(#lens)" stroke="#4a8fda" stroke-width="1.2"/>
<path d="M339 8.2 H345" stroke="#3a7fb4" stroke-width="1.7"/>
<rect x="364" y="2.2" width="7.8" height="7.6" fill="#2f8a12"/>
<rect x="364" y="5.2" width="7.8" height="4.6" fill="#5ab02e"/>
<rect x="365.3" y="5.4" width="5.2" height="2.8" fill="none" stroke="#ffffff" stroke-width="0.9"/>
<rect x="364.8" y="3.2" width="1.2" height="0.9" fill="#ffffff"/>
<rect x="372.2" y="2.2" width="7.8" height="7.6" fill="#1238b8"/>
<rect x="372.2" y="5.2" width="7.8" height="4.6" fill="#2d66e0"/>
<rect x="373.5" y="5.4" width="5.2" height="2.8" fill="none" stroke="#ffffff" stroke-width="0.9"/>
<rect x="373.0" y="3.2" width="1.2" height="0.9" fill="#ffffff"/>
<rect x="364" y="10" width="7.8" height="7.6" fill="#1238b8"/>
<rect x="364" y="13" width="7.8" height="4.6" fill="#2d66e0"/>
<rect x="365.3" y="13.2" width="5.2" height="2.8" fill="none" stroke="#ffffff" stroke-width="0.9"/>
<rect x="364.8" y="11" width="1.2" height="0.9" fill="#ffffff"/>
<rect x="372.2" y="10" width="7.8" height="7.6" fill="#2f8a12"/>
<rect x="372.2" y="13" width="7.8" height="4.6" fill="#5ab02e"/>
<rect x="373.5" y="13.2" width="5.2" height="2.8" fill="none" stroke="#ffffff" stroke-width="0.9"/>
<rect x="373.0" y="11" width="1.2" height="0.9" fill="#ffffff"/>
<rect x="389" y="0" width="1" height="20" fill="#a0a0a0" shape-rendering="crispEdges"/>
<rect x="390" y="0" width="1" height="20" fill="#fafafa" shape-rendering="crispEdges"/>
<rect x="394" y="0" width="1" height="20" fill="#a0a0a0" shape-rendering="crispEdges"/>
<rect x="395" y="0" width="1" height="20" fill="#fafafa" shape-rendering="crispEdges"/>
<rect x="396" y="0" width="23" height="21" fill="url(#chk)" shape-rendering="crispEdges"/>
<path d="M402.5 5 V17.5 M400 15.5 H413 M400.8 6.8 L402.5 4.2 L404.2 6.8 M411.2 13.9 L413.6 15.5 L411.2 17.1" stroke="#4a4a4a" stroke-width="1" fill="none"/>
<polygon points="407.6,6.2 411.2,9.6 407.6,13" fill="#f0fff0" stroke="#1b8f1b" stroke-width="1.1"/>
<rect x="422" y="0" width="1" height="20" fill="#a0a0a0" shape-rendering="crispEdges"/>
<rect x="423" y="0" width="1" height="20" fill="#fafafa" shape-rendering="crispEdges"/>
<rect x="424" y="0" width="23" height="21" fill="url(#chk)" shape-rendering="crispEdges"/>
<path d="M430.5 5 V17.5 M428 15.5 H441 M428.8 6.8 L430.5 4.2 L432.2 6.8 M439.2 13.9 L441.6 15.5 L439.2 17.1" stroke="#4a4a4a" stroke-width="1" fill="none"/>
<path d="M436.6 4 V13.6" stroke="#1f5fae" stroke-width="1.3"/>
<path d="M441.6 9.4 H438 M439.8 7.4 L437.6 9.4 L439.8 11.4" stroke="#d63a0a" stroke-width="1.2" fill="none"/>
<rect x="451" y="0" width="1" height="20" fill="#a0a0a0" shape-rendering="crispEdges"/>
<rect x="452" y="0" width="1" height="20" fill="#fafafa" shape-rendering="crispEdges"/>
<path d="M461.6 3 H468 L471 6 V15 H461.6 Z" fill="#fafafa" stroke="#8a8a8a" stroke-width="0.9"/>
<path d="M468 3 V6 H471" fill="none" stroke="#8a8a8a" stroke-width="0.8"/>
<path d="M465 6.5 H463.6 V12 H465" fill="none" stroke="#777" stroke-width="0.8"/>
<path d="M471 7.8 V19.6 M465.2 13.7 H476.8" stroke="#0c7c0c" stroke-width="3.8"/>
<path d="M471 8.7 V18.7 M466.1 13.7 H475.9" stroke="#2ee02e" stroke-width="2"/>
<polygon points="483,9 488.4,9 485.7,12.2" fill="#000"/>
<circle cx="507" cy="9.8" r="7.7" fill="url(#clk)"/>
<circle cx="507" cy="9.8" r="5.1" fill="#f6f8fc"/>
<path d="M506.8 6 V10 H509.6" stroke="#333" stroke-width="1.1" fill="none"/>
<path d="M502.6 9.8 H503.6 M510.4 9.8 H511.4 M507 13.2 V14.2" stroke="#8aa" stroke-width="0.8"/>
<polygon points="522,9 527.4,9 524.7,12.2" fill="#000"/>
<rect x="538.4" y="3.4" width="15.2" height="13.2" fill="#fbfdff" stroke="#3f7fd8" stroke-width="1.2"/>
<rect x="538.4" y="3.4" width="15.2" height="2.2" fill="#5a96e6"/>
<path d="M539 10.8 H553" stroke="#3f7fd8" stroke-width="0.9"/>
<path d="M540.4 9.2 L543 8.4 L545 9 L547.6 7.6 L549.6 8.4 L552 7" stroke="#b22a1a" stroke-width="1.1" fill="none"/>
<path d="M540.4 14.6 L543 13.4 L545 14.6 L548 12.6 L550 14.2 L552 13.4" stroke="#1b9a1b" stroke-width="1.1" fill="none"/>
<polygon points="560.8,9 566.1999999999999,9 563.5,12.2" fill="#000"/>
<rect x="572" y="0" width="1" height="20" fill="#a0a0a0" shape-rendering="crispEdges"/>
<rect x="573" y="0" width="1" height="20" fill="#fafafa" shape-rendering="crispEdges"/>
<rect x="576" y="1" width="3" height="1" fill="#a8a8a8" shape-rendering="crispEdges"/>
<rect x="576" y="3" width="3" height="1" fill="#a8a8a8" shape-rendering="crispEdges"/>
<rect x="576" y="5" width="3" height="1" fill="#a8a8a8" shape-rendering="crispEdges"/>
<rect x="576" y="7" width="3" height="1" fill="#a8a8a8" shape-rendering="crispEdges"/>
<rect x="576" y="9" width="3" height="1" fill="#a8a8a8" shape-rendering="crispEdges"/>
<rect x="576" y="11" width="3" height="1" fill="#a8a8a8" shape-rendering="crispEdges"/>
<rect x="576" y="13" width="3" height="1" fill="#a8a8a8" shape-rendering="crispEdges"/>
<rect x="576" y="15" width="3" height="1" fill="#a8a8a8" shape-rendering="crispEdges"/>
<rect x="576" y="17" width="3" height="1" fill="#a8a8a8" shape-rendering="crispEdges"/>
<rect x="576" y="19" width="3" height="1" fill="#a8a8a8" shape-rendering="crispEdges"/>
<rect x="582" y="0" width="1" height="20" fill="#a0a0a0" shape-rendering="crispEdges"/>
<rect x="583" y="0" width="24" height="21" fill="url(#chk)" shape-rendering="crispEdges"/>
<path d="M590.2 3 L590.2 14.6 L593 12.2 L595.4 17 L597.2 16.1 L594.9 11.5 L598.4 11.2 Z" fill="#3c3c3c"/>
<path d="M622.5 3 V9 M622.5 12 V17.6 M615 10.4 H621 M624 10.4 H630" stroke="#4a4a4a" stroke-width="1.2"/>
<rect x="622" y="10" width="1" height="1" fill="#777"/>
<rect x="639" y="0" width="1" height="20" fill="#a0a0a0" shape-rendering="crispEdges"/>
<rect x="640" y="0" width="1" height="20" fill="#fafafa" shape-rendering="crispEdges"/>
<path d="M656.3 4 V17" stroke="#4a4a4a" stroke-width="1.4"/>
<path d="M678.8 10.4 H691" stroke="#4a4a4a" stroke-width="1.4"/>
<path d="M707 17 L718.8 5" stroke="#4a4a4a" stroke-width="1.3"/>
<path d="M733 12.4 L745.6 3.2 M734.6 16.2 L747.4 7" stroke="#4a4a4a" stroke-width="1.2"/>
<path d="M736.8 8.4 L735 16.6 M740 6 L738.2 14.4 M743.2 3.8 L741.4 12 M746.2 2.4 L744.6 9.6" stroke="#4a4a4a" stroke-width="1.1"/>
<text x="744" y="19" font-family="Liberation Sans, sans-serif" font-size="6.5" font-weight="bold" fill="#333">E</text>
<path d="M762 3.5 H775.5" stroke="#4a4a4a" stroke-width="1" stroke-dasharray="1 1"/>
<path d="M762 7 H775.5" stroke="#4a4a4a" stroke-width="1" stroke-dasharray="1 1"/>
<path d="M762 10.6 H775.5" stroke="#4a4a4a" stroke-width="1" stroke-dasharray="1 1"/>
<path d="M762 14.7 H770.5" stroke="#4a4a4a" stroke-width="1" stroke-dasharray="1 1"/>
<text x="771.6" y="19" font-family="Liberation Sans, sans-serif" font-size="6.5" font-weight="bold" fill="#333">F</text>
<text x="792.8" y="14.7" font-family="Liberation Sans, sans-serif" font-size="11.2" fill="#555" stroke="#555" stroke-width="0.35">A</text>
<rect x="819" y="4" width="11.6" height="12.4" fill="none" stroke="#555" stroke-width="1" stroke-dasharray="1 1"/>
<text x="821.2" y="14.2" font-family="Liberation Sans, sans-serif" font-size="10.4" font-weight="bold" fill="#555">T</text>
<polygon points="846.4,7.4 849.6,4.2 852.8,7.4 849.6,8.8" fill="#3c3c3c"/>
<polygon points="853.4,13 860,13 856.7,16.6" fill="#3c3c3c"/>
<path d="M848.2 10.6 L850.4 12.8 L853.6 8.2" stroke="#3c3c3c" stroke-width="1.2" fill="none"/>
<path d="M853.6 9 L856.4 12.6" stroke="#3c3c3c" stroke-width="1.1" fill="none"/>
<polygon points="867,9 872.4,9 869.7,12.2" fill="#000"/>
<rect x="878" y="0" width="1" height="22" fill="#8c8c8c" shape-rendering="crispEdges"/><rect x="879" y="0" width="1" height="22" fill="#ffffff" shape-rendering="crispEdges"/>
<rect x="882" y="1" width="3" height="1" fill="#a8a8a8" shape-rendering="crispEdges"/>
<rect x="882" y="3" width="3" height="1" fill="#a8a8a8" shape-rendering="crispEdges"/>
<rect x="882" y="5" width="3" height="1" fill="#a8a8a8" shape-rendering="crispEdges"/>
<rect x="882" y="7" width="3" height="1" fill="#a8a8a8" shape-rendering="crispEdges"/>
<rect x="882" y="9" width="3" height="1" fill="#a8a8a8" shape-rendering="crispEdges"/>
<rect x="882" y="11" width="3" height="1" fill="#a8a8a8" shape-rendering="crispEdges"/>
<rect x="882" y="13" width="3" height="1" fill="#a8a8a8" shape-rendering="crispEdges"/>
<rect x="882" y="15" width="3" height="1" fill="#a8a8a8" shape-rendering="crispEdges"/>
<rect x="882" y="17" width="3" height="1" fill="#a8a8a8" shape-rendering="crispEdges"/>
<rect x="882" y="19" width="3" height="1" fill="#a8a8a8" shape-rendering="crispEdges"/>
<rect x="1028" y="0" width="1" height="20" fill="#8c8c8c" shape-rendering="crispEdges"/>
<rect x="1029" y="0" width="24" height="21" fill="url(#chk)" shape-rendering="crispEdges"/>
<text transform="translate(900,13.8) scale(1,1.1)" text-anchor="middle" font-family="Liberation Sans, sans-serif" font-size="9.4" fill="#454545" stroke="#454545" stroke-width="0.15">M1</text>
<text transform="translate(927.8,13.8) scale(1,1.1)" text-anchor="middle" font-family="Liberation Sans, sans-serif" font-size="9.4" fill="#454545" stroke="#454545" stroke-width="0.15">M5</text>
<text transform="translate(956.4,13.8) scale(1,1.1)" text-anchor="middle" font-family="Liberation Sans, sans-serif" font-size="9.4" fill="#454545" stroke="#454545" stroke-width="0.15">M15</text>
<text transform="translate(984.4,13.8) scale(1,1.1)" text-anchor="middle" font-family="Liberation Sans, sans-serif" font-size="9.4" fill="#454545" stroke="#454545" stroke-width="0.15">M30</text>
<text transform="translate(1012.5,13.8) scale(1,1.1)" text-anchor="middle" font-family="Liberation Sans, sans-serif" font-size="9.4" fill="#454545" stroke="#454545" stroke-width="0.15">H1</text>
<text transform="translate(1040,13.8) scale(1,1.1)" text-anchor="middle" font-family="Liberation Sans, sans-serif" font-size="9.4" fill="#454545" stroke="#454545" stroke-width="0.15">H4</text>
<text transform="translate(1068.3,13.8) scale(1,1.1)" text-anchor="middle" font-family="Liberation Sans, sans-serif" font-size="9.4" fill="#454545" stroke="#454545" stroke-width="0.15">D1</text>
<text transform="translate(1097,13.8) scale(1,1.1)" text-anchor="middle" font-family="Liberation Sans, sans-serif" font-size="9.4" fill="#454545" stroke="#454545" stroke-width="0.15">W1</text>
<text transform="translate(1124,13.8) scale(1,1.1)" text-anchor="middle" font-family="Liberation Sans, sans-serif" font-size="9.4" fill="#454545" stroke="#454545" stroke-width="0.15">MN</text>
<rect x="1139" y="0" width="1" height="20" fill="#a0a0a0" shape-rendering="crispEdges"/>
<rect x="1140" y="0" width="1" height="20" fill="#fafafa" shape-rendering="crispEdges"/>
<path d="M1606.4 11.2 L1601.8 15" stroke="#2a50c4" stroke-width="2.2" stroke-linecap="round"/>
<circle cx="1609.5" cy="7.3" r="3.9" fill="#f0f2f8" stroke="#3f72dc" stroke-width="1.25"/>
<path d="M1626 12.4 a5.2 4.4 0 1 1 6 4.2 L1629.4 18.6 L1629.8 16.4 a5.2 4.4 0 0 1 -3.8 -4 Z" fill="#f4f5f8" stroke="#9a9fa9" stroke-width="0.9"/>
<circle cx="1640.5" cy="7.2" r="8.3" fill="url(#redb)"/>
<text x="1639.9" y="11.5" text-anchor="middle" font-family="Liberation Sans, sans-serif" font-size="12" fill="#ffffff" stroke="#fff" stroke-width="0.3">1</text>
</svg>
<div class="t cn" style="left:-2.5px;top:1.8px;">新订单</div>
<div class="t cn" style="left:148.5px;top:1.8px;">自动交易</div>
<svg style="position:absolute;left:8px;top:32.6px" width="8" height="5"><polygon points="0,0 8,0 4,4.5" fill="#000"/></svg>
<div class="t ax" style="left:1618px;top:29.3px;">105.985</div>
<div class="t ax" style="left:1618px;top:62.3px;">105.110</div>
<div class="t ax" style="left:1618px;top:95.3px;">104.260</div>
<div class="t ax" style="left:1618px;top:128.3px;">103.385</div>
<div class="t ax" style="left:1618px;top:161.3px;">102.510</div>
<div class="t ax" style="left:1618px;top:194.3px;">101.635</div>
<div class="t ax" style="left:1618px;top:227.3px;">100.760</div>
<div class="t ax" style="left:1618px;top:260.3px;">99.885</div>
<div class="t ax" style="left:1618px;top:293.3px;">99.010</div>
<div class="t ax" style="left:1618px;top:326.3px;">98.160</div>
<div class="t ax" style="left:1618px;top:359.3px;">97.285</div>
<div class="t ax" style="left:1618px;top:458.3px;">94.660</div>
<div class="t ax" style="left:1618px;top:491.3px;">93.785</div>
<div class="t ax" style="left:1618px;top:524.3px;">92.910</div>
<div class="t ax" style="left:1618px;top:557.3px;">92.035</div>
<div class="t ax" style="left:1618px;top:590.3px;">91.185</div>
<div class="t ax w" style="left:1618px;top:346.0px;">97.597</div>
<div class="t ax w" style="left:1618px;top:390.0px;">96.436</div>
<div class="t ax w" style="left:1618px;top:427.0px;">95.461</div>
<div class="t ax w" style="left:1618px;top:486.0px;">93.905</div>
<div class="t ax w" style="left:1618px;top:518.0px;">93.061</div>
<div class="t ax w" style="left:1618px;top:448.5px;">94.909</div>
<div class="t ax" style="left:1616px;top:602.1px;">1.7766</div>
<div class="t ax" style="left:1616px;top:651.1px;">0.00</div>
<div class="t ax" style="left:1616px;top:689.1px;">-1.438</div>
<div class="t ax" style="left:1616px;top:705.1px;">100</div>
<div class="t ax" style="left:1615.2px;top:718.2px;">80</div>
<div class="t ax" style="left:1615.2px;top:745.3px;">50</div>
<div class="t ax" style="left:1615.2px;top:778.2px;">15</div>
<div class="t ax" style="left:1615.2px;top:785.1px;">0</div>
<div class="t lb" style="left:19.9px;top:30.1px;">UKOil-,H4&nbsp; 95.064 95.118 94.781 94.909</div>
<div class="t lb" style="left:9.4px;top:604px;">MACD(12,26,9) -1.1890 -0.3645</div>
<div class="t lb" style="left:9.4px;top:707px;">RSI(14) 36.9878</div>
<div class="t tm" style="left:3.8px;top:800.8px;">12 Aug 2022</div>
<div class="t tm" style="left:67.8px;top:800.8px;">15 Aug 08:00</div>
<div class="t tm" style="left:131.8px;top:800.8px;">16 Aug 00:00</div>
<div class="t tm" style="left:195.8px;top:800.8px;">16 Aug 16:00</div>
<div class="t tm" style="left:259.8px;top:800.8px;">17 Aug 08:00</div>
<div class="t tm" style="left:323.8px;top:800.8px;">18 Aug 00:00</div>
<div class="t tm" style="left:387.8px;top:800.8px;">18 Aug 16:00</div>
<div class="t tm" style="left:451.8px;top:800.8px;">19 Aug 08:00</div>
<div class="t tm" style="left:515.8px;top:800.8px;">22 Aug 00:00</div>
<div class="t tm" style="left:579.8px;top:800.8px;">22 Aug 16:00</div>
<div class="t tm" style="left:643.8px;top:800.8px;">23 Aug 08:00</div>
<div class="t tm" style="left:707.8px;top:800.8px;">24 Aug 00:00</div>
<div class="t tm" style="left:771.8px;top:800.8px;">24 Aug 16:00</div>
<div class="t tm" style="left:835.8px;top:800.8px;">25 Aug 08:00</div>
<div class="t tm" style="left:899.8px;top:800.8px;">26 Aug 00:00</div>
<div class="t tm" style="left:963.8px;top:800.8px;">26 Aug 16:00</div>
<div class="t tm" style="left:1027.8px;top:800.8px;">29 Aug 08:00</div>
<div class="t tm" style="left:1091.8px;top:800.8px;">30 Aug 04:00</div>
<div class="t tm" style="left:1155.8px;top:800.8px;">30 Aug 20:00</div>
<div class="t tm" style="left:1219.8px;top:800.8px;">31 Aug 12:00</div>
</body></html>
